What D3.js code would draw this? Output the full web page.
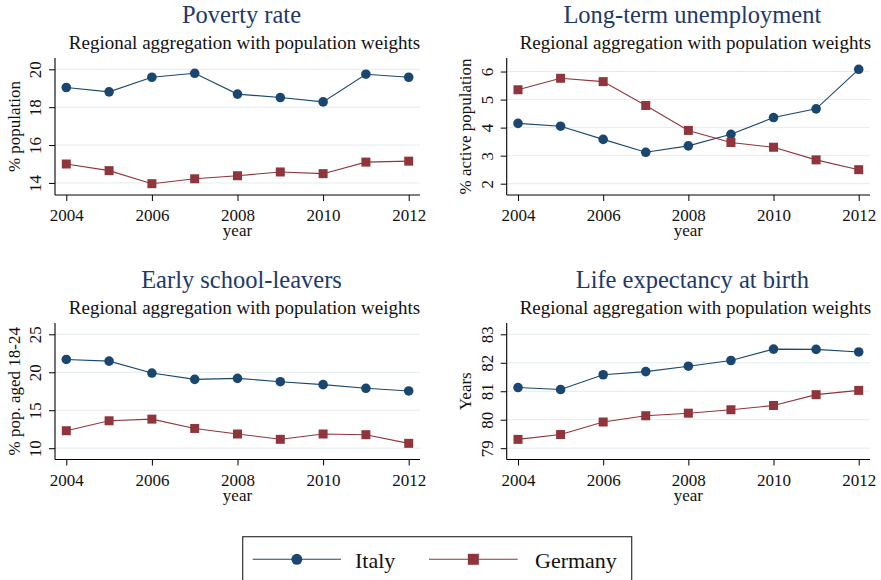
<!DOCTYPE html>
<html>
<head>
<meta charset="utf-8">
<script src="https://cdn.jsdelivr.net/npm/d3@7/dist/d3.min.js"></script>
<style>
  html, body { margin: 0; padding: 0; background: #fff; }
  svg { display: block; }
  svg text { font-family: "Liberation Serif", "Times New Roman", serif; }
</style>
</head>
<body>
<svg id="chart" width="881" height="580"></svg>
<script>
// Years shared by all four panels
const years = [2004, 2005, 2006, 2007, 2008, 2009, 2010, 2011, 2012];
const yearTicks = [2004, 2006, 2008, 2010, 2012];

// Poverty rate (% population)
const povertyItaly   = [19.04, 18.81, 19.58, 19.79, 18.69, 18.51, 18.28, 19.74, 19.58];
const povertyGermany = [15.00, 14.65, 13.96, 14.22, 14.38, 14.58, 14.49, 15.10, 15.15];
const povertyTicks   = [14, 16, 18, 20];

// Long-term unemployment (% active population)
const ltuItaly   = [4.15, 4.05, 3.58, 3.12, 3.35, 3.76, 4.36, 4.67, 6.08];
const ltuGermany = [5.35, 5.76, 5.64, 4.79, 3.90, 3.47, 3.30, 2.85, 2.50];
const ltuTicks   = [2, 3, 4, 5, 6];

// Early school-leavers (% pop. aged 18-24)
const eslItaly   = [21.69, 21.47, 19.90, 19.07, 19.20, 18.76, 18.37, 17.89, 17.54];
const eslGermany = [12.30, 13.61, 13.83, 12.60, 11.87, 11.17, 11.87, 11.78, 10.64];
const eslTicks   = [10, 15, 20, 25];

// Life expectancy at birth (years)
const lifeItaly   = [81.13, 81.06, 81.58, 81.69, 81.88, 82.08, 82.48, 82.47, 82.38];
const lifeGermany = [79.31, 79.48, 79.92, 80.14, 80.23, 80.35, 80.50, 80.88, 81.03];
const lifeTicks   = [79, 80, 81, 82, 83];

const seriesNames = ["Italy", "Germany"];
const titles = ["Poverty rate", "Long-term unemployment", "Early school-leavers", "Life expectancy at birth"];
const yTitles = ["% population", "% active population", "% pop. aged 18-24", "Years"];
const subtitle = "Regional aggregation with population weights";
const xTitle = "year";

const panels = [
  { title: titles[0], yTitle: yTitles[0], italy: povertyItaly, germany: povertyGermany, ticks: povertyTicks },
  { title: titles[1], yTitle: yTitles[1], italy: ltuItaly, germany: ltuGermany, ticks: ltuTicks },
  { title: titles[2], yTitle: yTitles[2], italy: eslItaly, germany: eslGermany, ticks: eslTicks },
  { title: titles[3], yTitle: yTitles[3], italy: lifeItaly, germany: lifeGermany, ticks: lifeTicks }
];

// Plot-region boxes (2 x 2 grid)
const boxes = [
  { left: 55,    right: 420, top: 58,  bottom: 195 },
  { left: 506.7, right: 870, top: 58,  bottom: 195 },
  { left: 55,    right: 420, top: 323, bottom: 459.5 },
  { left: 506.7, right: 870, top: 323, bottom: 459.5 }
];
const inset = 11.3;

const colors = { Italy: "#1a476f", Germany: "#90353b" };
const titleColor = "#22386a";
const gridColor = "#e3ecee";
const serif = "'Liberation Serif', 'Times New Roman', serif";

const svg = d3.select("#chart");

panels.forEach((p, i) => {
  const b = boxes[i];
  const g = svg.append("g");

  const x = d3.scaleLinear()
    .domain(d3.extent(years))
    .range([b.left + inset, b.right - inset]);

  const all = p.italy.concat(p.germany, p.ticks);
  const y = d3.scaleLinear()
    .domain(d3.extent(all))
    .range([b.bottom - inset, b.top + inset]);

  const cx = (b.left + b.right) / 2;

  // Titles
  g.append("text")
    .attr("x", cx + 4).attr("y", b.top - 35)
    .attr("text-anchor", "middle")
    .attr("font-size", 24.5)
    .attr("fill", titleColor)
    .text(p.title);
  g.append("text")
    .attr("x", cx + 7).attr("y", b.top - 9)
    .attr("text-anchor", "middle")
    .attr("font-size", 19)
    .attr("fill", "#111")
    .text(subtitle);

  // Grid lines
  g.append("g").selectAll("line")
    .data(p.ticks)
    .join("line")
    .attr("x1", b.left).attr("x2", b.right)
    .attr("y1", d => y(d)).attr("y2", d => y(d))
    .attr("stroke", gridColor)
    .attr("stroke-width", 1);

  // Y axis
  const yAxis = g.append("g")
    .attr("transform", `translate(${b.left},0)`)
    .call(d3.axisLeft(y).tickValues(p.ticks).tickSize(6).tickFormat(d3.format("d")))
    .attr("font-family", null).attr("font-size", null);
  yAxis.select(".domain")
    .attr("d", `M0,${b.top}V${b.bottom}`)
    .attr("stroke", "#000").attr("stroke-width", 1.1);
  yAxis.selectAll(".tick line").attr("stroke", "#000").attr("stroke-width", 1);
  yAxis.selectAll(".tick text")
    .attr("x", null).attr("dy", null)
    .attr("transform", "translate(-14,0) rotate(-90)")
    .attr("text-anchor", "middle")
    .style("font-family", serif)
    .style("font-size", "17px")
    .attr("fill", "#111");

  // X axis
  const xAxis = g.append("g")
    .attr("transform", `translate(0,${b.bottom})`)
    .call(d3.axisBottom(x).tickValues(yearTicks).tickSize(6).tickFormat(d3.format("d")))
    .attr("font-family", null).attr("font-size", null);
  xAxis.select(".domain")
    .attr("d", `M${b.left},0H${b.right}`)
    .attr("stroke", "#000").attr("stroke-width", 1.1);
  xAxis.selectAll(".tick line").attr("stroke", "#000").attr("stroke-width", 1);
  xAxis.selectAll(".tick text")
    .attr("y", 26).attr("dy", null)
    .style("font-family", serif)
    .style("font-size", "17px")
    .attr("fill", "#111");

  // Axis titles
  g.append("text")
    .attr("transform", `translate(${b.left - 35.5},${(b.top + b.bottom) / 2}) rotate(-90)`)
    .attr("text-anchor", "middle")
    .attr("font-size", 17)
    .attr("fill", "#111")
    .text(p.yTitle);
  g.append("text")
    .attr("x", cx).attr("y", b.bottom + 41)
    .attr("text-anchor", "middle")
    .attr("font-size", 17)
    .attr("fill", "#111")
    .text(xTitle);

  // Series
  const line = d3.line().x((d, k) => x(years[k])).y(d => y(d));
  [["Italy", p.italy], ["Germany", p.germany]].forEach(([name, vals]) => {
    g.append("path")
      .datum(vals)
      .attr("d", line)
      .attr("fill", "none")
      .attr("stroke", colors[name])
      .attr("stroke-width", 1.1);
    if (name === "Italy") {
      g.append("g").selectAll("circle")
        .data(vals).join("circle")
        .attr("cx", (d, k) => x(years[k]))
        .attr("cy", d => y(d))
        .attr("r", 4.8)
        .attr("fill", colors[name]);
    } else {
      const s = 9;
      g.append("g").selectAll("rect")
        .data(vals).join("rect")
        .attr("x", (d, k) => x(years[k]) - s / 2)
        .attr("y", d => y(d) - s / 2)
        .attr("width", s).attr("height", s)
        .attr("fill", colors[name]);
    }
  });
});

// Legend
const legend = svg.append("g");
legend.append("rect")
  .attr("x", 242.7).attr("y", 536.7)
  .attr("width", 389).attr("height", 60)
  .attr("fill", "#fff")
  .attr("stroke", "#333")
  .attr("stroke-width", 1.2);

const legendItems = [
  { name: seriesNames[0], x0: 252.7, x1: 341, tx: 355 },
  { name: seriesNames[1], x0: 429, x1: 517.7, tx: 535 }
];
const ly = 559.3;
legendItems.forEach(it => {
  legend.append("line")
    .attr("x1", it.x0).attr("x2", it.x1)
    .attr("y1", ly).attr("y2", ly)
    .attr("stroke", colors[it.name])
    .attr("stroke-width", 1.1);
  const mx = (it.x0 + it.x1) / 2;
  if (it.name === "Italy") {
    legend.append("circle").attr("cx", mx).attr("cy", ly).attr("r", 5.5).attr("fill", colors[it.name]);
  } else {
    legend.append("rect").attr("x", mx - 5.5).attr("y", ly - 5.5).attr("width", 11).attr("height", 11).attr("fill", colors[it.name]);
  }
  legend.append("text")
    .attr("x", it.tx).attr("y", 567.5)
    .attr("font-size", 22)
    .attr("fill", "#111")
    .text(it.name);
});
</script>
</body>
</html>
